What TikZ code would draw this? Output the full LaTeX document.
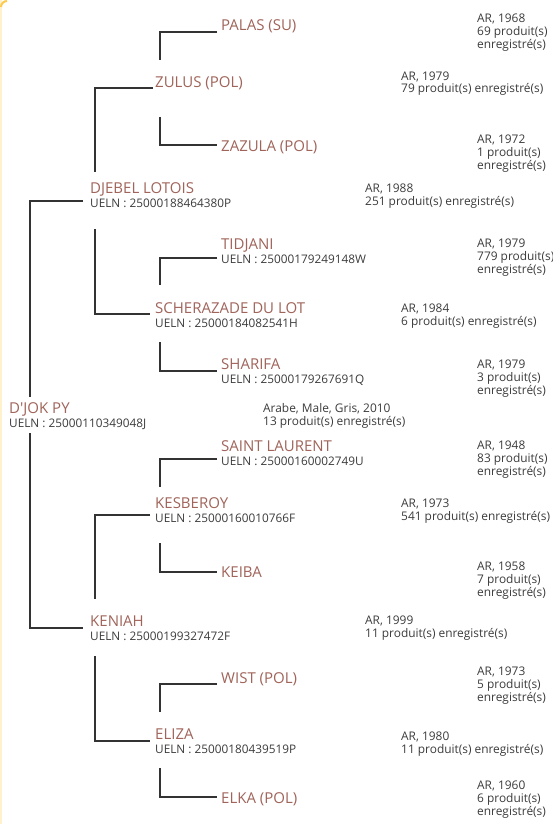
\documentclass[tikz,border=0pt]{standalone}
\usepackage{fontspec}
\setmainfont{Open Sans}
\usetikzlibrary{calc}
\definecolor{horse}{HTML}{A0645A}
\definecolor{infotext}{HTML}{3C3C3C}
\definecolor{linecol}{HTML}{333333}
\definecolor{cardedge}{HTML}{FFF1CC}
\definecolor{cardcorner}{HTML}{FFC94D}
\begin{document}
\begin{tikzpicture}[x=1pt, y=-1pt,
  horsename/.style={anchor=base west, inner sep=0pt, text=horse, font=\fontsize{15}{17}\selectfont},
  ueln/.style={anchor=base west, inner sep=0pt, text=infotext, font=\fontsize{11.8}{13}\selectfont},
  horseinfo/.style={anchor=base west, inner sep=0pt, text=infotext, align=left, font=\fontsize{11.9}{13}\selectfont},
  link/.style={draw=linecol, line width=1.1pt}]
\useasboundingbox (0,0) rectangle (553,824);
\fill[white] (0,0) rectangle (553,824);
% card edge
\fill[cardedge] (0,0) rectangle (2,824);
\draw[cardcorner, line width=2pt] (1,7) arc[start angle=180, end angle=270, radius=6];

% foal
\node[horsename] (djok) at (9,413) {D\textquotesingle JOK PY};
\node[ueln] (djok-id) at ($(djok.base west)+(0,14)$) {UELN : 25000110349048J};
\node[horseinfo] (djok-info) at (263,425) {Arabe, Male, Gris, 2010\\13 produit(s) enregistré(s)};

% parents
\node[horsename] (djebel) at (90,193) {DJEBEL LOTOIS};
\node[ueln] (djebel-id) at ($(djebel.base west)+(0,14)$) {UELN : 25000188464380P};
\node[horseinfo] (djebel-info) at (365,205) {AR, 1988\\251 produit(s) enregistré(s)};

\node[horsename] (keniah) at (90,626) {KENIAH};
\node[ueln] (keniah-id) at ($(keniah.base west)+(0,14)$) {UELN : 25000199327472F};
\node[horseinfo] (keniah-info) at (365,637) {AR, 1999\\11 produit(s) enregistré(s)};

% grandparents
\node[horsename] (zulus) at (155,88) {ZULUS (POL)};
\node[horseinfo] (zulus-info) at (401,93) {AR, 1979\\79 produit(s) enregistré(s)};

\node[horsename] (scherazade) at (155,313) {SCHERAZADE DU LOT};
\node[ueln] (scherazade-id) at ($(scherazade.base west)+(0,14)$) {UELN : 25000184082541H};
\node[horseinfo] (scherazade-info) at (401,325) {AR, 1984\\6 produit(s) enregistré(s)};

\node[horsename] (kesberoy) at (155,508) {KESBEROY};
\node[ueln] (kesberoy-id) at ($(kesberoy.base west)+(0,14)$) {UELN : 25000160010766F};
\node[horseinfo] (kesberoy-info) at (401,520) {AR, 1973\\541 produit(s) enregistré(s)};

\node[horsename] (eliza) at (155,739) {ELIZA};
\node[ueln] (eliza-id) at ($(eliza.base west)+(0,14)$) {UELN : 25000180439519P};
\node[horseinfo] (eliza-info) at (401,753) {AR, 1980\\11 produit(s) enregistré(s)};

% great-grandparents
\node[horsename] (palas) at (221,31) {PALAS (SU)};
\node[horseinfo] (palas-info) at (477,49) {AR, 1968\\69 produit(s)\\enregistré(s)};

\node[horsename] (zazula) at (221,151) {ZAZULA (POL)};
\node[horseinfo] (zazula-info) at (477,169) {AR, 1972\\1 produit(s)\\enregistré(s)};

\node[horsename] (tidjani) at (221,249) {TIDJANI};
\node[ueln] (tidjani-id) at ($(tidjani.base west)+(0,14)$) {UELN : 25000179249148W};
\node[horseinfo] (tidjani-info) at (477,273) {AR, 1979\\779 produit(s)\\enregistré(s)};

\node[horsename] (sharifa) at (221,369) {SHARIFA};
\node[ueln] (sharifa-id) at ($(sharifa.base west)+(0,14)$) {UELN : 25000179267691Q};
\node[horseinfo] (sharifa-info) at (477,394) {AR, 1979\\3 produit(s)\\enregistré(s)};

\node[horsename] (saint) at (221,451) {SAINT LAURENT};
\node[ueln] (saint-id) at ($(saint.base west)+(0,14)$) {UELN : 25000160002749U};
\node[horseinfo] (saint-info) at (477,475) {AR, 1948\\83 produit(s)\\enregistré(s)};

\node[horsename] (keiba) at (221,577) {KEIBA};
\node[horseinfo] (keiba-info) at (477,596) {AR, 1958\\7 produit(s)\\enregistré(s)};

\node[horsename] (wist) at (221,683) {WIST (POL)};
\node[horseinfo] (wist-info) at (477,701) {AR, 1973\\5 produit(s)\\enregistré(s)};

\node[horsename] (elka) at (221,803) {ELKA (POL)};
\node[horseinfo] (elka-info) at (477,815) {AR, 1960\\6 produit(s)\\enregistré(s)};

% links
\draw[link] ($(palas.base west)+(-4,1)$) -| ($(zulus.base west)+(5,-28)$);
\draw[link] ($(zulus.base west)+(5,29)$) |- ($(zazula.base west)+(-4,-6)$);
\draw[link] ($(zulus.base west)+(-2,0)$) -| ($(djebel.base west)+(5,-21)$);
\draw[link] ($(djebel.base west)+(5,36)$) |- ($(scherazade.base west)+(-5,1)$);
\draw[link] ($(tidjani.base west)+(-4,9)$) -| ($(scherazade.base west)+(5,-28)$);
\draw[link] ($(scherazade.base west)+(5,29)$) |- ($(sharifa.base west)+(-4,2)$);
\draw[link] ($(djebel.base west)+(-7,8)$) -| ($(djok.base west)+(21,-16)$);
\draw[link] ($(djok.base west)+(21,20)$) |- ($(keniah.base west)+(-7,2)$);
\draw[link] ($(saint.base west)+(-4,8)$) -| ($(kesberoy.base west)+(5,-21)$);
\draw[link] ($(kesberoy.base west)+(5,35)$) |- ($(keiba.base west)+(-4,-5)$);
\draw[link] ($(kesberoy.base west)+(-5,7)$) -| ($(keniah.base west)+(5,-27)$);
\draw[link] ($(keniah.base west)+(5,30)$) |- ($(eliza.base west)+(-5,2)$);
\draw[link] ($(wist.base west)+(-4,1)$) -| ($(eliza.base west)+(5,-27)$);
\draw[link] ($(eliza.base west)+(5,29)$) |- ($(elka.base west)+(-4,-6)$);
\end{tikzpicture}
\end{document}
